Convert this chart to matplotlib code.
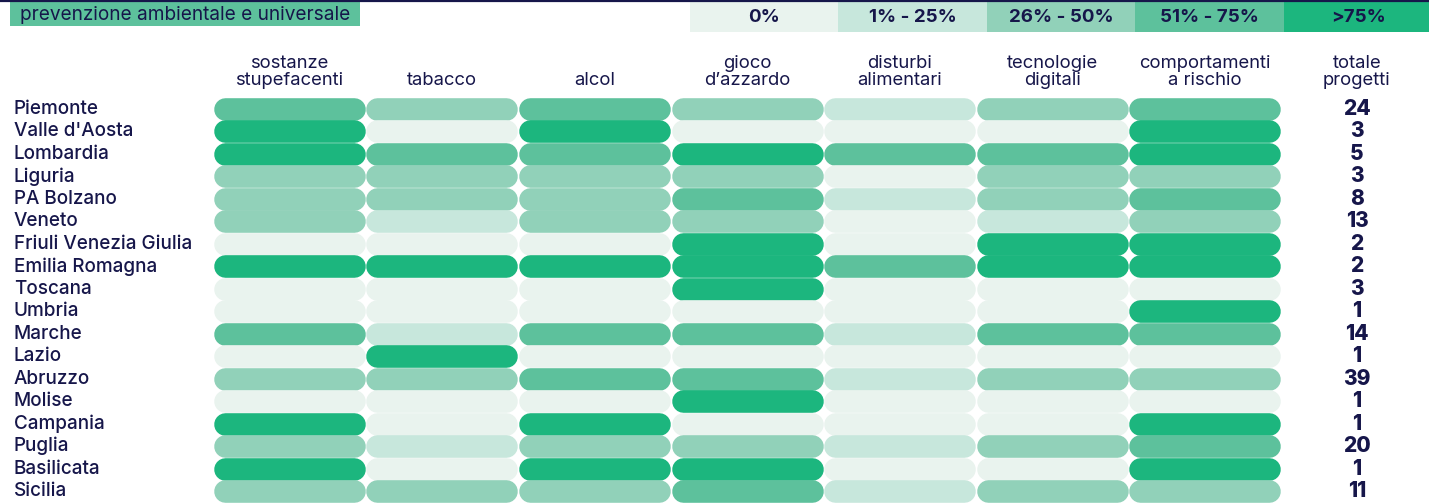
import matplotlib
matplotlib.use("Agg")
import matplotlib.pyplot as plt
from matplotlib.patches import Rectangle

plt.rcParams['font.family'] = ['Inter', 'DejaVu Sans']

NAVY = '#16164a'
PALETTE = ['#e9f3ee', '#c7e7dc', '#91d1b9', '#5dc19c', '#1cb67e']

title = 'prevenzione ambientale e universale'
legend_labels = ['0%', '1% - 25%', '26% - 50%', '51% - 75%', '>75%']
columns = ['sostanze\nstupefacenti', 'tabacco', 'alcol', 'gioco\nd\u2019azzardo',
           'disturbi\nalimentari', 'tecnologie\ndigitali', 'comportamenti\na rischio']
total_header = 'totale\nprogetti'

regions = ['Piemonte', "Valle d'Aosta", 'Lombardia', 'Liguria', 'PA Bolzano',
           'Veneto', 'Friuli Venezia Giulia', 'Emilia Romagna', 'Toscana',
           'Umbria', 'Marche', 'Lazio', 'Abruzzo', 'Molise', 'Campania',
           'Puglia', 'Basilicata', 'Sicilia']

# class per cell: 0 = 0%, 1 = 1-25%, 2 = 26-50%, 3 = 51-75%, 4 = >75%
sostanze      = [3, 4, 4, 2, 2, 2, 0, 4, 0, 0, 3, 0, 2, 0, 4, 2, 4, 2]
tabacco       = [2, 0, 3, 2, 2, 1, 0, 4, 0, 0, 1, 4, 2, 0, 0, 1, 0, 2]
alcol         = [3, 4, 3, 2, 2, 2, 0, 4, 0, 0, 3, 0, 3, 0, 4, 2, 4, 2]
gioco         = [2, 0, 4, 2, 3, 2, 4, 4, 4, 0, 3, 0, 3, 4, 0, 2, 4, 3]
disturbi      = [1, 0, 3, 0, 1, 0, 0, 3, 0, 0, 1, 0, 1, 0, 0, 1, 0, 1]
tecnologie    = [2, 0, 3, 2, 2, 1, 4, 4, 0, 0, 3, 0, 2, 0, 0, 2, 0, 2]
comportamenti = [3, 4, 4, 2, 3, 2, 4, 4, 0, 4, 3, 0, 2, 0, 4, 3, 4, 2]
totale = [24, 3, 5, 3, 8, 13, 2, 2, 3, 1, 14, 1, 39, 1, 1, 20, 1, 11]

grid = [sostanze, tabacco, alcol, gioco, disturbi, tecnologie, comportamenti]

W, H = 1429, 503
DPI = 100
fig = plt.figure(figsize=(W / DPI, H / DPI), dpi=DPI)
ax = fig.add_axes([0, 0, 1, 1])
ax.set_xlim(0, W)
ax.set_ylim(H, 0)
ax.axis('off')

# top rule and title tab
ax.plot([0, W], [0.8, 0.8], color=NAVY, lw=1.6, solid_capstyle='butt')
ax.add_patch(Rectangle((10, 2), 350, 24, facecolor=PALETTE[3], edgecolor='none'))
ax.text(20, 14.5, title, color=NAVY, fontsize=13.7, va='center', ha='left')

# legend strip
leg_x0, leg_w = 690, 148.5
for i, lab in enumerate(legend_labels):
    ax.add_patch(Rectangle((leg_x0 + i * leg_w, 2), leg_w, 30,
                           facecolor=PALETTE[i], edgecolor='none'))
    ax.text(leg_x0 + (i + 0.5) * leg_w, 17, lab, color=NAVY, fontsize=13.5,
            fontweight='bold', ha='center', va='center')

# grid geometry (axes units are pixels)
col_x0, col_w = 213, 152.6
row_y0, row_h = 109, 22.47
bar_h = 22.6
bar_lw = bar_h * 72 / DPI  # line width in points for a pill of bar_h px

for j, name in enumerate(columns):
    cx = col_x0 + (j + 0.5) * col_w
    ax.text(cx, 89, name, color=NAVY, fontsize=13.3, ha='center', va='bottom',
            linespacing=1.02)
ax.text(1357, 89, total_header, color=NAVY, fontsize=13.3, ha='center',
        va='bottom', linespacing=1.02)

for i, reg in enumerate(regions):
    cy = row_y0 + i * row_h
    ax.text(14, cy, reg, color=NAVY, fontsize=13.6, ha='left', va='center',
            fontweight='medium')
    for j, col in enumerate(grid):
        x = col_x0 + j * col_w
        r = bar_h / 2
        ax.plot([x + 0.5 + r, x + col_w - 0.5 - r], [cy, cy],
                color=PALETTE[col[i]], lw=bar_lw, solid_capstyle='round')
    ax.text(1357, cy, str(totale[i]), color=NAVY, fontsize=15, ha='center',
            va='center', fontweight='heavy')

fig.savefig('out.png', dpi=DPI)
